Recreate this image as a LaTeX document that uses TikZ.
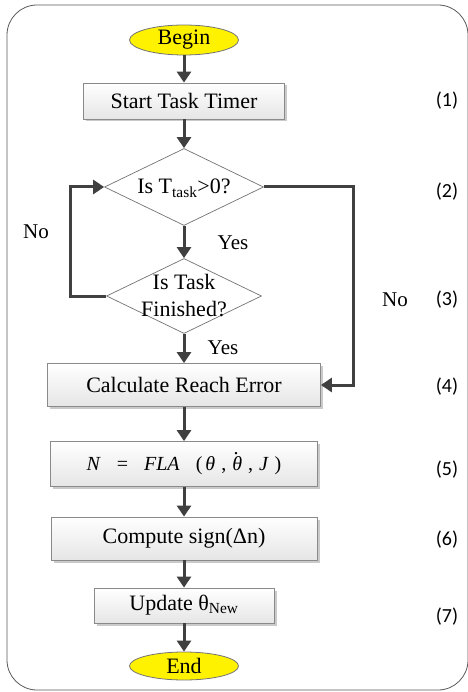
\documentclass[tikz,border=0pt]{standalone}
\usepackage{fontspec}
\setmainfont{Liberation Serif}
\newfontfamily\lblfont{Carlito}
\usetikzlibrary{shapes.geometric,arrows.meta,shadows,calc}
\definecolor{arrowgray}{HTML}{404040}
\definecolor{boxborder}{HTML}{8A8A8A}
\tikzset{
  base/.style={font=\fontsize{22}{25}\selectfont, inner sep=0pt},
  procbox/.style={base, rectangle, draw=boxborder, line width=0.8pt,
     top color=white, bottom color=black!10,
     drop shadow={shadow xshift=2.5pt, shadow yshift=-2.5pt, fill=black!35, opacity=0.6}},
  terminal/.style={base, ellipse, draw=black!55, line width=0.8pt, fill=yellow,
     minimum width=109pt, minimum height=30pt},
  decision/.style={diamond, draw=black!55, line width=0.7pt, fill=white, inner sep=0pt},
  arr/.style={draw=arrowgray, line width=3pt, -{Triangle[length=11pt,width=14pt]}},
  yn/.style={font=\fontsize{21}{24}\selectfont, inner sep=0pt},
  stepnum/.style={font=\lblfont\fontsize{20}{22}\selectfont, inner sep=0pt},
}
\begin{document}
\begin{tikzpicture}[x=1pt,y=-1pt]
\useasboundingbox (0,0) rectangle (467,692);
% frame
\draw[black!65, line width=0.8pt, rounded corners=30pt] (7,5) rectangle (468,690);

% nodes
\node[terminal] (begin) at (184,40) {Begin};
\node[procbox, minimum width=201pt, minimum height=36pt] (timer) at (184,101) {Start Task Timer};
\node[decision, minimum width=159pt, minimum height=77pt] (d1) at (184,187) {};
\node[base] (d1t) at (184,188) {Is T\textsubscript{task}>0?};
\node[decision, minimum width=155pt, minimum height=75pt] (d2) at (184,296) {};
\node[base, align=center, font=\fontsize{22}{27}\selectfont] (d2t) at (184,296) {Is Task\\Finished?};
\node[procbox, minimum width=273pt, minimum height=43pt] (calc) at (184,385) {Calculate Reach Error};
\node[procbox, minimum width=267pt, minimum height=45pt, font=\fontsize{20}{22}\selectfont] (fla) at (184,464)
  {\textit{N}\hspace{16pt}=\hspace{16pt}\textit{FLA}\hspace{16pt}(\hspace{3pt}\textit{θ}\hspace{6pt},\hspace{6pt}\textit{θ}\llap{\raisebox{16pt}{.}\hspace{3.5pt}}\hspace{6pt},\hspace{6pt}\textit{J}\hspace{6pt})};
\node[procbox, minimum width=266pt, minimum height=43pt] (comp) at (184,538.5) {Compute sign(Δn)};
\node[procbox, minimum width=180pt, minimum height=35pt] (upd) at (184,605.5) {Update θ\textsubscript{New}};
\node[terminal, minimum height=28pt] (end) at (184,666) {End};

% loop coordinates
\coordinate (lx) at (70,0);
\coordinate (rx) at (353,0);

% connectors
\draw[arr] (begin) -- (timer);
\draw[arr] (timer) -- (d1);
\draw[arr] (d1) -- (d2);
\draw[arr] (d2.west) -- (d2.west -| lx) |- (d1.west);
\draw[arr] (d1.east) -- (d1.east -| rx) |- (calc.east);
\draw[arr] (d2) -- (calc);
\draw[arr] (calc) -- (fla);
\draw[arr] (fla) -- (comp);
\draw[arr] (comp) -- (upd);
\draw[arr] (upd) -- (end);

% labels
\node[yn] (no1) at (36,232) {No};
\node[yn] (yes1) at (233,243) {Yes};
\node[yn] (no2) at (395,300) {No};
\node[yn] (yes2) at (223,348) {Yes};

\node[stepnum] (s1) at (447,101) {(1)};
\node[stepnum] (s2) at (447,192) {(2)};
\node[stepnum] (s3) at (447,300) {(3)};
\node[stepnum] (s4) at (447,387) {(4)};
\node[stepnum] (s5) at (447,470) {(5)};
\node[stepnum] (s6) at (447,540) {(6)};
\node[stepnum] (s7) at (447,617) {(7)};
\end{tikzpicture}
\end{document}
